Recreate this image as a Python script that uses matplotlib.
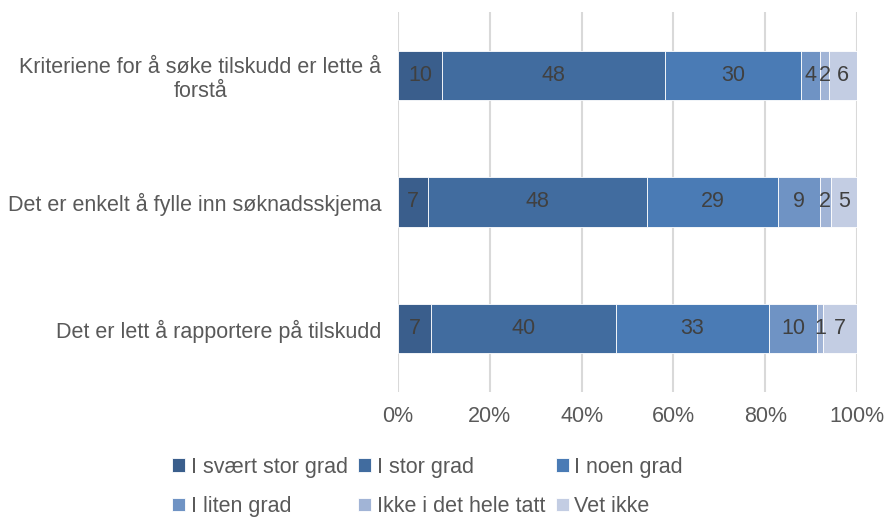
import numpy as np
import matplotlib.pyplot as plt

plt.rcParams['font.family'] = ['Liberation Sans', 'DejaVu Sans']

statements = ['Kriteriene for å søke tilskudd er lette å\nforstå',
              'Det er enkelt å fylle inn søknadsskjema',
              'Det er lett å rapportere på tilskudd']
answers = ['I svært stor grad', 'I stor grad', 'I noen grad',
           'I liten grad', 'Ikke i det hele tatt', 'Vet ikke']
# shares per statement (bar widths), labels are rounded values shown
shares = np.array([
    [9.6, 48.6, 29.6, 4.1, 2.0, 6.1],
    [6.5, 47.7, 28.6, 9.1, 2.4, 5.7],
    [7.2, 40.3, 33.3, 10.5, 1.3, 7.4],
])
labels = [
    [10, 48, 30, 4, 2, 6],
    [7, 48, 29, 9, 2, 5],
    [7, 40, 33, 10, 1, 7],
]
colors = ['#3a5e8c', '#416c9f', '#4a7bb5', '#6f93c4', '#a1b4d6', '#c3cde3']
fs = 15.5

fig = plt.figure(figsize=(8.85, 5.17), dpi=100)
ax = fig.add_axes([0.4497, 0.242, 0.5187, 0.735])

y = np.arange(len(statements))
left = np.zeros(len(statements))
handles = []
for j, name in enumerate(answers):
    bars = ax.barh(y, shares[:, j], left=left, height=0.39, color=colors[j],
                   edgecolor='white', linewidth=0.6, label=name, zorder=3)
    handles.append(bars)
    for i in range(len(statements)):
        ax.text(left[i] + shares[i, j] / 2, y[i], str(labels[i][j]),
                ha='center', va='center', fontsize=fs, color='#404040', zorder=4)
    left += shares[:, j]

ax.set_xlim(0, 100)
ax.set_ylim(2.5, -0.5)
ax.set_yticks(y)
ax.set_yticklabels(statements, fontsize=fs, color='#595959')
for t in ax.get_yticklabels():
    t.set_multialignment('center')
ax.set_xticks(np.arange(0, 101, 20))
ax.set_xticklabels([f'{v}%' for v in range(0, 101, 20)], fontsize=fs, color='#595959')
ax.tick_params(axis='both', length=0)
ax.tick_params(axis='y', pad=12)
ax.tick_params(axis='x', pad=10)
ax.grid(axis='x', color='#d9d9d9', linewidth=1.5, zorder=0)
for s in ax.spines.values():
    s.set_visible(False)

order = [0, 3, 1, 4, 2, 5]
fig.legend([handles[k] for k in order], [answers[k] for k in order],
           ncol=3, loc='center', bbox_to_anchor=(0.483, 0.058), frameon=False,
           fontsize=fs, labelcolor='#595959', handlelength=0.6, handleheight=0.6,
           handletextpad=0.25, columnspacing=0.5, labelspacing=0.85)

fig.savefig('out.png', dpi=100)
